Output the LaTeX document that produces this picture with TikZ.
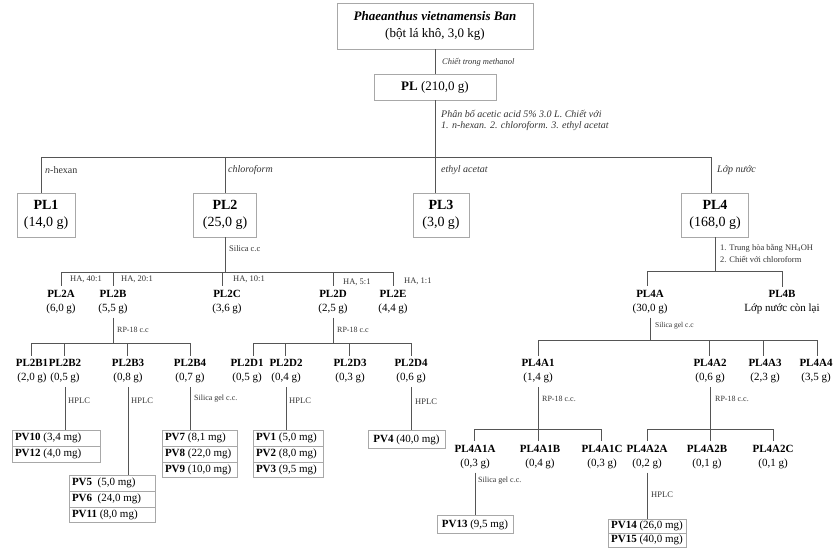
\documentclass[tikz,border=0pt]{standalone}
\usepackage{fontspec}
\setmainfont{Liberation Serif}
\usetikzlibrary{shapes.multipart}
\definecolor{linec}{HTML}{555555}
\definecolor{boxc}{HTML}{A8A8A8}
\definecolor{notec}{HTML}{333333}

\begin{document}
\begin{tikzpicture}[x=1pt,y=-1pt,
  box/.style={draw=boxc, line width=0.8pt, align=center, inner sep=2pt},
  big/.style={box, font=\fontsize{14}{17}\selectfont, minimum height=44pt},
  frac/.style={align=center, inner xsep=1pt, inner ysep=3.5pt, font=\fontsize{11}{14}\selectfont},
  pvbox/.style={draw=boxc, line width=0.8pt, rectangle split, rectangle split parts=#1,
    rectangle split part align=left, inner xsep=3pt, inner ysep=1pt,
    font=\fontsize{11}{13}\selectfont, anchor=north},
  pvone/.style={box, anchor=north, minimum height=18pt, font=\fontsize{11}{13}\selectfont},
  note/.style={anchor=west, inner sep=0pt, text=notec, font=\fontsize{8.5}{12}\selectfont, align=left},
  solv/.style={note, font=\fontsize{10}{11.5}\selectfont\itshape},
  link/.style={draw=linec, line width=1pt}]
\useasboundingbox (0,0) rectangle (835,547);

%Source
\node[box, font=\fontsize{13}{17}\selectfont, minimum width=196pt, minimum height=46pt] (src) at (435,26)
  {\textbf{\textit{Phaeanthus vietnamensis Ban}}\\(bột lá khô, 3,0 kg)};
\node[box, font=\fontsize{13}{15}\selectfont, minimum width=122pt, minimum height=26pt] (PL) at (435,87)
  {\textbf{PL} (210,0 g)};
\draw[link] (src) -- (PL);
\node[note, font=\fontsize{8.5}{10}\selectfont\itshape] at (442,62) {Chiết trong methanol};

%Partition
\coordinate (b1) at (435,157);
\draw[link] (PL) -- (b1);
\node[solv] at (441,120.5) {Phân bố acetic acid 5\% 3.0 L. Chiết với\\1. n-hexan. 2. chloroform. 3. ethyl acetat};
\coordinate (b1a) at (41,157);
\coordinate (b1b) at (225,157);
\coordinate (b1c) at (435,157);
\coordinate (b1d) at (711,157);
\draw[link] (b1a) -- (b1d);
\node[big, minimum width=58pt] (PL1) at (46,215) {\textbf{PL1}\\(14,0 g)};
\node[big, minimum width=63pt] (PL2) at (225,215) {\textbf{PL2}\\(25,0 g)};
\node[big, minimum width=56pt] (PL3) at (441,215) {\textbf{PL3}\\(3,0 g)};
\node[big, minimum width=67pt] (PL4) at (715,215) {\textbf{PL4}\\(168,0 g)};
\draw[link] (b1a) -- (b1a |- PL1.north);
\draw[link] (b1b) -- (b1b |- PL2.north);
\draw[link] (b1c) -- (b1c |- PL3.north);
\draw[link] (b1d) -- (b1d |- PL4.north);
\node[note, font=\fontsize{10}{11.5}\selectfont] at (45,170) {\textit{n}-hexan};
\node[solv] at (228,170) {chloroform};
\node[solv] at (441,170) {ethyl acetat};
\node[solv] at (717,170) {Lớp nước};

%PL2 on silica
\coordinate (b2a) at (61,272);
\coordinate (b2b) at (113,272);
\coordinate (b2c) at (222,272);
\coordinate (b2d) at (333,272);
\coordinate (b2e) at (393,272);
\draw[link] (PL2) -- (PL2 |- b2a);
\node[note] at (229,249) {Silica c.c};
\draw[link] (b2a) -- (b2e);
\node[frac] (PL2A) at (61,302) {\textbf{PL2A}\\(6,0 g)};
\node[frac] (PL2B) at (113,302) {\textbf{PL2B}\\(5,5 g)};
\node[frac] (PL2C) at (227,302) {\textbf{PL2C}\\(3,6 g)};
\node[frac] (PL2D) at (333,302) {\textbf{PL2D}\\(2,5 g)};
\node[frac] (PL2E) at (393,302) {\textbf{PL2E}\\(4,4 g)};
\draw[link] (b2a) -- (b2a |- PL2A.north);
\draw[link] (b2b) -- (b2b |- PL2B.north);
\draw[link] (b2c) -- (b2c |- PL2C.north);
\draw[link] (b2d) -- (b2d |- PL2D.north);
\draw[link] (b2e) -- (b2e |- PL2E.north);
\node[note] at (70,279) {HA, 40:1};
\node[note] at (121,279) {HA, 20:1};
\node[note] at (233,279) {HA, 10:1};
\node[note] at (343,282) {HA, 5:1};
\node[note] at (404,281) {HA, 1:1};

%PL2B on RP-18
\coordinate (b3a) at (31,343);
\coordinate (b3b) at (64,343);
\coordinate (b3c) at (127,343);
\coordinate (b3d) at (190,343);
\draw[link] (PL2B) -- (PL2B |- b3a);
\node[note, font=\fontsize{8}{10}\selectfont] at (117,330) {RP-18 c.c};
\draw[link] (b3a) -- (b3d);
\node[frac] (PL2B1) at (32,371.5) {\textbf{PL2B1}\\(2,0 g)};
\node[frac] (PL2B2) at (65,371.5) {\textbf{PL2B2}\\(0,5 g)};
\node[frac] (PL2B3) at (128,371.5) {\textbf{PL2B3}\\(0,8 g)};
\node[frac] (PL2B4) at (190,371.5) {\textbf{PL2B4}\\(0,7 g)};
\draw[link] (b3a) -- (b3a |- PL2B1.north);
\draw[link] (b3b) -- (b3b |- PL2B2.north);
\draw[link] (b3c) -- (b3c |- PL2B3.north);
\draw[link] (b3d) -- (b3d |- PL2B4.north);

%PL2D on RP-18
\coordinate (b4a) at (253,343);
\coordinate (b4b) at (285,343);
\coordinate (b4c) at (349,343);
\coordinate (b4d) at (411,343);
\draw[link] (PL2D) -- (PL2D |- b4a);
\node[note, font=\fontsize{8}{10}\selectfont] at (337,330) {RP-18 c.c};
\draw[link] (b4a) -- (b4d);
\node[frac] (PL2D1) at (247,371.5) {\textbf{PL2D1}\\(0,5 g)};
\node[frac] (PL2D2) at (286,371.5) {\textbf{PL2D2}\\(0,4 g)};
\node[frac] (PL2D3) at (350,371.5) {\textbf{PL2D3}\\(0,3 g)};
\node[frac] (PL2D4) at (411,371.5) {\textbf{PL2D4}\\(0,6 g)};
\draw[link] (b4a) -- (b4a |- PL2D1.north);
\draw[link] (b4b) -- (b4b |- PL2D2.north);
\draw[link] (b4c) -- (b4c |- PL2D3.north);
\draw[link] (b4d) -- (b4d |- PL2D4.north);

%Compounds from PL2
\node[pvbox=2, minimum width=88pt] (PVa) at (56,430)
  {\strut\textbf{PV10} (3,4 mg)\nodepart{two}\strut\textbf{PV12} (4,0 mg)};
\node[pvbox=3, minimum width=86pt] (PVb) at (112,475)
  {\strut\textbf{PV5}\ \ (5,0 mg)\nodepart{two}\strut\textbf{PV6}\ \ (24,0 mg)\nodepart{three}\strut\textbf{PV11} (8,0 mg)};
\node[pvbox=3, minimum width=75pt] (PVc) at (199.5,430)
  {\strut\textbf{PV7} (8,1 mg)\nodepart{two}\strut\textbf{PV8} (22,0 mg)\nodepart{three}\strut\textbf{PV9} (10,0 mg)};
\node[pvbox=3, minimum width=70pt] (PVd) at (288,430)
  {\strut\textbf{PV1} (5,0 mg)\nodepart{two}\strut\textbf{PV2} (8,0 mg)\nodepart{three}\strut\textbf{PV3} (9,5 mg)};
\node[pvone, minimum width=77pt] (PVe) at (406.5,430) {\textbf{PV4} (40,0 mg)};
\draw[link] (PL2B2) -- (PL2B2 |- PVa.north);
\draw[link] (PL2B3) -- (PL2B3 |- PVb.north);
\draw[link] (PL2B4) -- (PL2B4 |- PVc.north);
\draw[link] (PL2D2) -- (PL2D2 |- PVd.north);
\draw[link] (PL2D4) -- (PL2D4 |- PVe.north);
\node[note] at (68,401) {HPLC};
\node[note] at (131,401) {HPLC};
\node[note, font=\fontsize{8}{10}\selectfont] at (194,399) {Silica gel c.c.};
\node[note] at (289,401) {HPLC};
\node[note] at (415,402) {HPLC};

%PL4
\coordinate (b5a) at (647,271);
\coordinate (b5b) at (782,271);
\draw[link] (PL4) -- (PL4 |- b5a);
\node[note, font=\fontsize{8.5}{12}\selectfont] at (720,253) {1. Trung hòa bằng NH\textsubscript{4}OH\\2. Chiết với chloroform};
\draw[link] (b5a) -- (b5b);
\node[frac] (PL4A) at (650,302) {\textbf{PL4A}\\(30,0 g)};
\node[frac] (PL4B) at (782,302) {\textbf{PL4B}\\Lớp nước còn lại};
\draw[link] (b5a) -- (b5a |- PL4A.north);
\draw[link] (b5b) -- (b5b |- PL4B.north);

%PL4A on silica gel
\coordinate (b6a) at (538,340);
\coordinate (b6b) at (709,340);
\coordinate (b6c) at (763,340);
\coordinate (b6d) at (817,340);
\draw[link] (PL4A) -- (PL4A |- b6a);
\node[note, font=\fontsize{7.5}{9}\selectfont] at (655,326) {Silica gel c.c};
\draw[link] (b6a) -- (b6d);
\node[frac] (PL4A1) at (538,371.5) {\textbf{PL4A1}\\(1,4 g)};
\node[frac] (PL4A2) at (710,371.5) {\textbf{PL4A2}\\(0,6 g)};
\node[frac] (PL4A3) at (765,371.5) {\textbf{PL4A3}\\(2,3 g)};
\node[frac] (PL4A4) at (816,371.5) {\textbf{PL4A4}\\(3,5 g)};
\draw[link] (b6a) -- (b6a |- PL4A1.north);
\draw[link] (b6b) -- (b6b |- PL4A2.north);
\draw[link] (b6c) -- (b6c |- PL4A3.north);
\draw[link] (b6d) -- (b6d |- PL4A4.north);

%PL4A1 and PL4A2 on RP-18
\coordinate (b7a) at (474,429);
\coordinate (b7b) at (538,429);
\coordinate (b7c) at (601,429);
\draw[link] (PL4A1) -- (b7b);
\node[note, font=\fontsize{8}{10}\selectfont] at (542,399) {RP-18 c.c.};
\draw[link] (b7a) -- (b7c);
\coordinate (b8a) at (647,429);
\coordinate (b8b) at (710,429);
\coordinate (b8c) at (773,429);
\draw[link] (PL4A2) -- (b8b);
\node[note, font=\fontsize{8}{10}\selectfont] at (715,399) {RP-18 c.c.};
\draw[link] (b8a) -- (b8c);
\node[frac] (PL4A1A) at (475,457) {\textbf{PL4A1A}\\(0,3 g)};
\node[frac] (PL4A1B) at (540,457) {\textbf{PL4A1B}\\(0,4 g)};
\node[frac] (PL4A1C) at (602,457) {\textbf{PL4A1C}\\(0,3 g)};
\node[frac] (PL4A2A) at (647,457) {\textbf{PL4A2A}\\(0,2 g)};
\node[frac] (PL4A2B) at (707,457) {\textbf{PL4A2B}\\(0,1 g)};
\node[frac] (PL4A2C) at (773,457) {\textbf{PL4A2C}\\(0,1 g)};
\draw[link] (b7a) -- (b7a |- PL4A1A.north);
\draw[link] (b7b) -- (b7b |- PL4A1B.north);
\draw[link] (b7c) -- (b7c |- PL4A1C.north);
\draw[link] (b8a) -- (b8a |- PL4A2A.north);
\draw[link] (b8b) -- (b8b |- PL4A2B.north);
\draw[link] (b8c) -- (b8c |- PL4A2C.north);

%Compounds from PL4
\node[pvone, minimum width=76pt] (PVf) at (475,515) {\textbf{PV13} (9,5 mg)};
\node[pvbox=2, minimum width=76pt, inner ysep=0pt] (PVg) at (647,519)
  {\strut\textbf{PV14} (26,0 mg)\nodepart{two}\strut\textbf{PV15} (40,0 mg)};
\draw[link] (PL4A1A) -- (PL4A1A |- PVf.north);
\draw[link] (PL4A2A) -- (PL4A2A |- PVg.north);
\node[note, font=\fontsize{8}{10}\selectfont] at (478,481) {Silica gel c.c.};
\node[note] at (651,495) {HPLC};
\end{tikzpicture}
\end{document}
